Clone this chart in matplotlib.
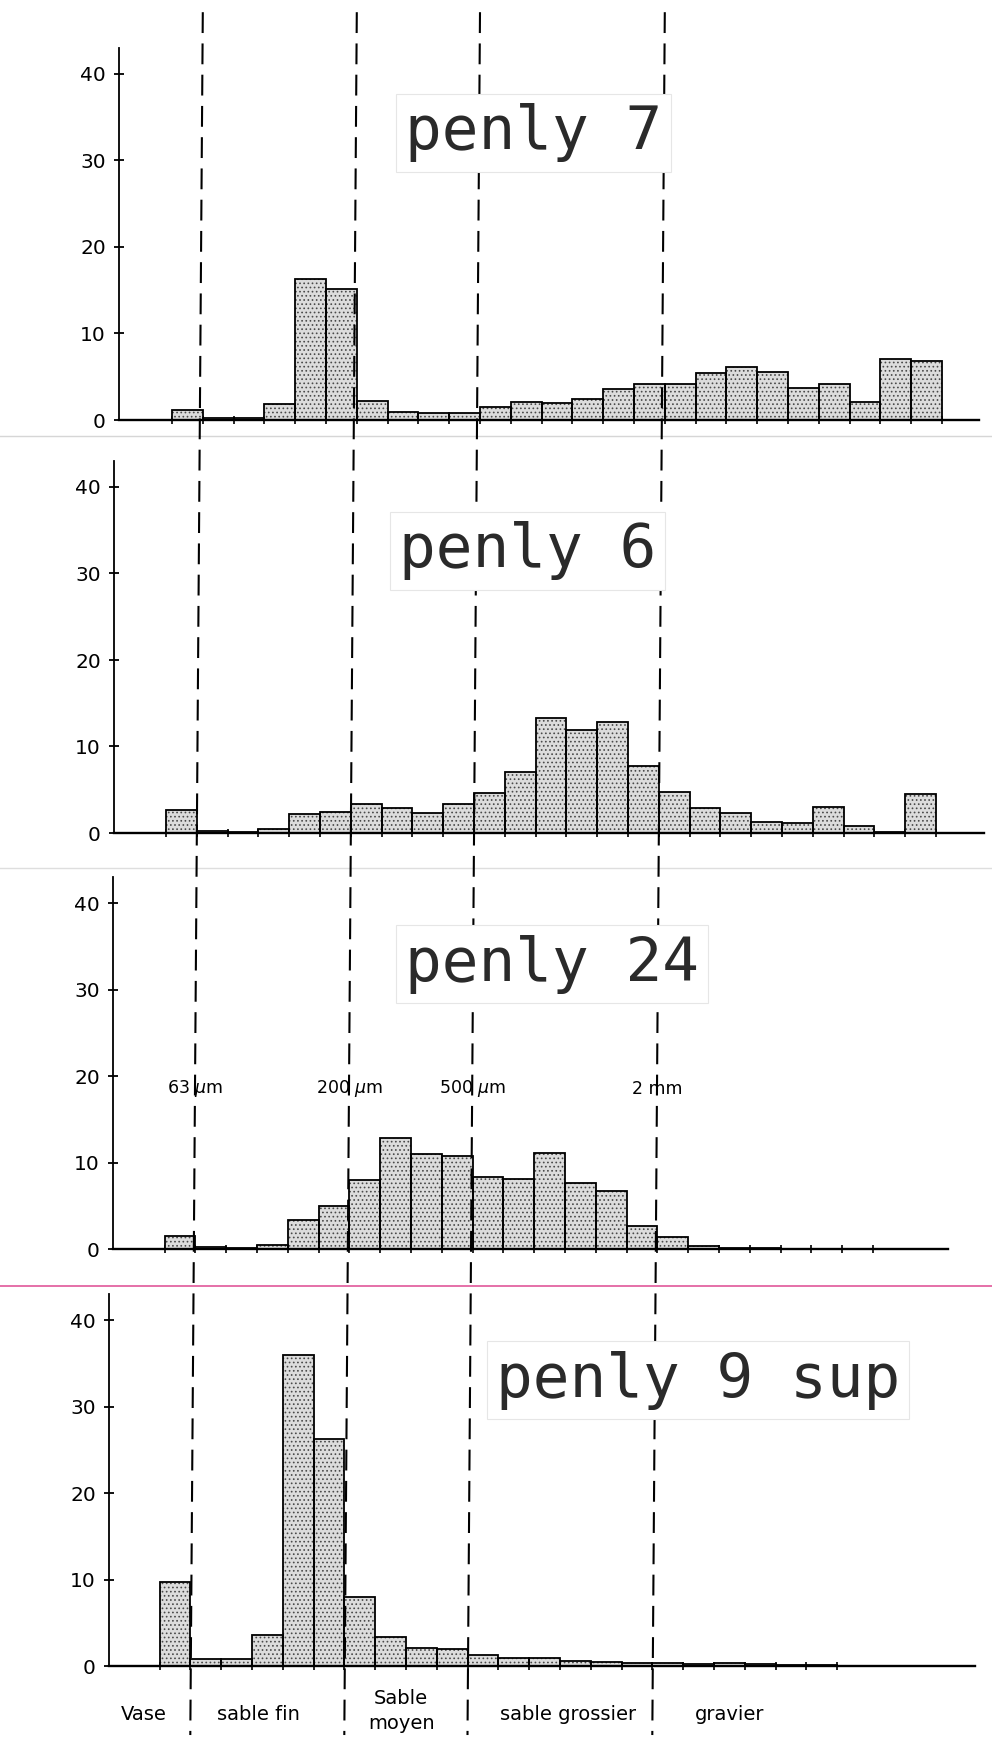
import matplotlib
matplotlib.use("Agg")
import matplotlib.pyplot as plt
from matplotlib.lines import Line2D

# ── data: % per 1/3-phi class ────────────────────────────────────────────────
names   = ["penly 7", "penly 6", "penly 24", "penly 9 sup"]
penly7  = [1.2, 0.2, 0.2, 1.9, 16.3, 15.1, 2.2, 0.9, 0.8, 0.8, 1.5, 2.1, 2.0,
           2.4, 3.6, 4.2, 4.2, 5.4, 6.1, 5.6, 3.7, 4.2, 2.1, 7.0, 6.8]
penly6  = [2.7, 0.2, 0.1, 0.5, 2.2, 2.4, 3.3, 2.9, 2.3, 3.3, 4.6, 7.0, 13.3,
           11.9, 12.8, 7.8, 4.7, 2.9, 2.3, 1.3, 1.1, 3.0, 0.8, 0.1, 4.5]
penly24 = [1.5, 0.2, 0.1, 0.5, 3.4, 5.0, 8.0, 12.8, 11.0, 10.7, 8.3, 8.1, 11.1,
           7.6, 6.7, 2.7, 1.4, 0.3, 0.1, 0.1, 0.05, 0.05, 0.05]
penly9  = [9.7, 0.8, 0.8, 3.6, 35.9, 26.3, 8.0, 3.3, 2.1, 2.0, 1.3, 0.9, 0.9,
           0.6, 0.5, 0.3, 0.3, 0.2, 0.3, 0.2, 0.15, 0.15]
series  = [penly7, penly6, penly24, penly9]

y_ticks      = [0, 10, 20, 30, 40]
limit_bins   = [1, 6, 10, 16]                     # class edges
limit_labels = ["63 $\\mu$m", "200 $\\mu$m", "500 $\\mu$m", "2 mm"]
classes      = ["Vase", "sable fin", "Sable\nmoyen", "sable grossier", "gravier"]
class_pos    = [-0.5, 3.2, 7.85, 13.25, 18.5]     # x (bin units)

# ── layout (pixels of the 992x1742 scan) ─────────────────────────────────────
W, H     = 992, 1742
BINW     = 30.8
yaxis_px = [119, 114, 113, 109]
bin0_px  = [172, 166, 164.5, 159.5]
right_px = [979, 984, 948, 975]
base_px  = [420, 833, 1249, 1666]
title_xy = [(405, 133), (399, 551), (405, 964), (496, 1380)]
PXU      = 8.65                                   # px per % unit
YLO, YHI = -3, 43

plt.rcParams["hatch.color"] = "#4a4a4a"
plt.rcParams["hatch.linewidth"] = 0.7

fig = plt.figure(figsize=(W / 100, H / 100), dpi=100)
fig.patch.set_facecolor("white")

def fx(px): return px / W
def fy(py): return 1 - py / H

axes = []
for i, vals in enumerate(series):
    xmin = -(bin0_px[i] - yaxis_px[i]) / BINW
    width_px = 992 - yaxis_px[i]
    xmax = xmin + width_px / BINW
    bottom = base_px[i] + (0 - YLO) * PXU
    height = (YHI - YLO) * PXU
    ax = fig.add_axes([fx(yaxis_px[i]), fy(bottom), fx(width_px), height / H])
    ax.set_xlim(xmin, xmax)
    ax.set_ylim(YLO, YHI)
    ax.patch.set_alpha(0)

    x = [k + 0.5 for k in range(len(vals))]
    ax.bar(x, vals, width=1, facecolor="#dcdcdc", edgecolor="#4a4a4a",
           linewidth=0, hatch="....", zorder=2)
    ax.bar(x, vals, width=1, facecolor="none", edgecolor="black",
           linewidth=1.3, zorder=3)

    for s in ["top", "right"]:
        ax.spines[s].set_visible(False)
    ax.spines["left"].set_bounds(0, YHI)
    ax.spines["left"].set_linewidth(1.3)
    ax.spines["bottom"].set_position(("data", 0))
    ax.spines["bottom"].set_bounds(xmin, (right_px[i] - bin0_px[i]) / BINW)
    ax.spines["bottom"].set_linewidth(1.7)

    ax.set_yticks(y_ticks)
    ax.set_xticks(range(len(vals) + 1))
    ax.set_xticklabels([])
    ax.tick_params(axis="y", direction="inout", length=7, width=1.3,
                   labelsize=14.5, pad=6)
    ax.tick_params(axis="x", direction="inout", length=6, width=1.2)

    tx, ty = title_xy[i]
    fig.text(fx(tx), fy(ty), names[i], family="DejaVu Sans Mono", fontsize=44,
             ha="left", va="center", color="#2a2a2a", zorder=6,
             bbox=dict(boxstyle="square,pad=0.15", fc="white", ec="#e6e6e6", lw=0.8))
    axes.append(ax)

# ── class-limit dashed lines, running down the whole page ───────────────────
inv = fig.transFigure.inverted()
for k in limit_bins:
    x_top = inv.transform(axes[0].transData.transform((k, 0)))[0]
    x_bot = inv.transform(axes[-1].transData.transform((k, 0)))[0]
    fig.add_artist(Line2D([x_top, x_bot], [0.993, 0.004], color="black", lw=1.5,
                          dashes=(10, 5), zorder=4))

# size labels in the penly 24 panel
for k, lab in zip(limit_bins, limit_labels):
    axes[2].text(k, 18.5, lab, ha="center", va="center", fontsize=12.5,
                 family="DejaVu Sans", zorder=7, clip_on=False,
                 bbox=dict(boxstyle="square,pad=0.25", fc="white", ec="none"))

# class names under the last panel
for pos, lab in zip(class_pos, classes):
    yy = -5.6 if "\n" not in lab else -5.2
    axes[3].text(pos, yy, lab, ha="center", va="center", fontsize=14,
                 family="DejaVu Sans", linespacing=1.35, clip_on=False,
                 bbox=dict(boxstyle="square,pad=0.2", fc="white", ec="none"),
                 zorder=7)

# paste-up seams of the scan
fig.add_artist(Line2D([0, 1], [fy(436), fy(436)], color="#d6d6d6", lw=1))
fig.add_artist(Line2D([0, 1], [fy(868), fy(868)], color="#dedede", lw=1))
fig.add_artist(Line2D([0, 1], [fy(1286), fy(1286)], color="#e0589a", lw=1.2))

fig.savefig("out.png", dpi=100, facecolor="white")
